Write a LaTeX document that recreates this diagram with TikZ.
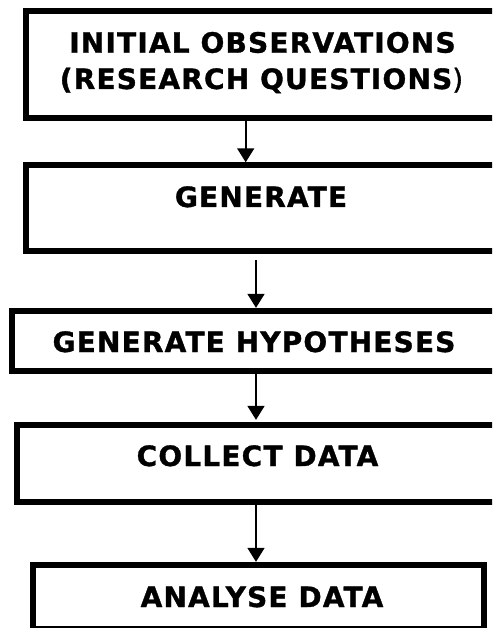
\documentclass[tikz,border=0pt]{standalone}
\usepackage{fontspec}
\setmainfont{DejaVu Sans}
\newfontfamily\boxfont[LetterSpace=4.2,FakeBold=1.2]{DejaVu Sans}
\usetikzlibrary{arrows.meta}
\begin{document}
\begin{tikzpicture}[x=1pt,y=-1pt,
  stagebox/.style={draw=black,line width=6pt,fill=white},
  label/.style={font=\boxfont\bfseries\fontsize{28}{30}\selectfont,inner sep=0pt,anchor=base},
  flow/.style={draw=black,line width=1.8pt,-{Triangle[width=17pt,length=14pt]}}]
\clip (0,0) rectangle (492,628);
\fill[white] (0,0) rectangle (492,628);
% boxes
\path[stagebox] (26,11.5) rectangle (500,118);
\path[stagebox] (26,165.5) rectangle (500,250.5);
\path[stagebox] (11.5,311) rectangle (500,370.5);
\path[stagebox] (16.5,424.5) rectangle (500,502);
\path[stagebox] (32.5,565) rectangle (483.5,629);
\node[inner sep=0pt,minimum width=474pt,minimum height=106.5pt] (b1) at (263,64.75) {};
\node[inner sep=0pt,minimum width=474pt,minimum height=85pt] (b2) at (263,208) {};
\node[inner sep=0pt,minimum width=488.5pt,minimum height=59.5pt] (b3) at (255.75,340.75) {};
\node[inner sep=0pt,minimum width=483.5pt,minimum height=77.5pt] (b4) at (258.25,463.25) {};
\node[inner sep=0pt,minimum width=451pt,minimum height=64pt] (b5) at (258,597) {};
% texts
\node[label] (t1a) at (262.5,52.7) {INITIAL OBSERVATIONS};
\node[label] (t1b) at (261.5,89) {(RESEARCH QUESTIONS{\mdseries)}};
\node[label] (t2) at (261,207) {GENERATE};
\node[label] (t3) at (254,352) {GENERATE HYPOTHESES};
\node[label] (t4) at (257.5,466) {COLLECT DATA};
\node[label] (t5) at (262,607) {ANALYSE DATA};
% connectors
\draw[flow] ([xshift=-17.3pt,yshift=-3pt]b1.south) -- ([xshift=-17.3pt,yshift=3pt]b2.north);
\draw[flow] ([xshift=-7pt,yshift=-9.5pt]b2.south) -- ([xshift=0.25pt,yshift=3pt]b3.north);
\draw[flow] ([xshift=0.25pt,yshift=-2.5pt]b3.south) -- ([xshift=-2.25pt,yshift=4.5pt]b4.north);
\draw[flow] ([xshift=-2.25pt,yshift=-3pt]b4.south) -- ([xshift=-2pt,yshift=3pt]b5.north);
\end{tikzpicture}
\end{document}
